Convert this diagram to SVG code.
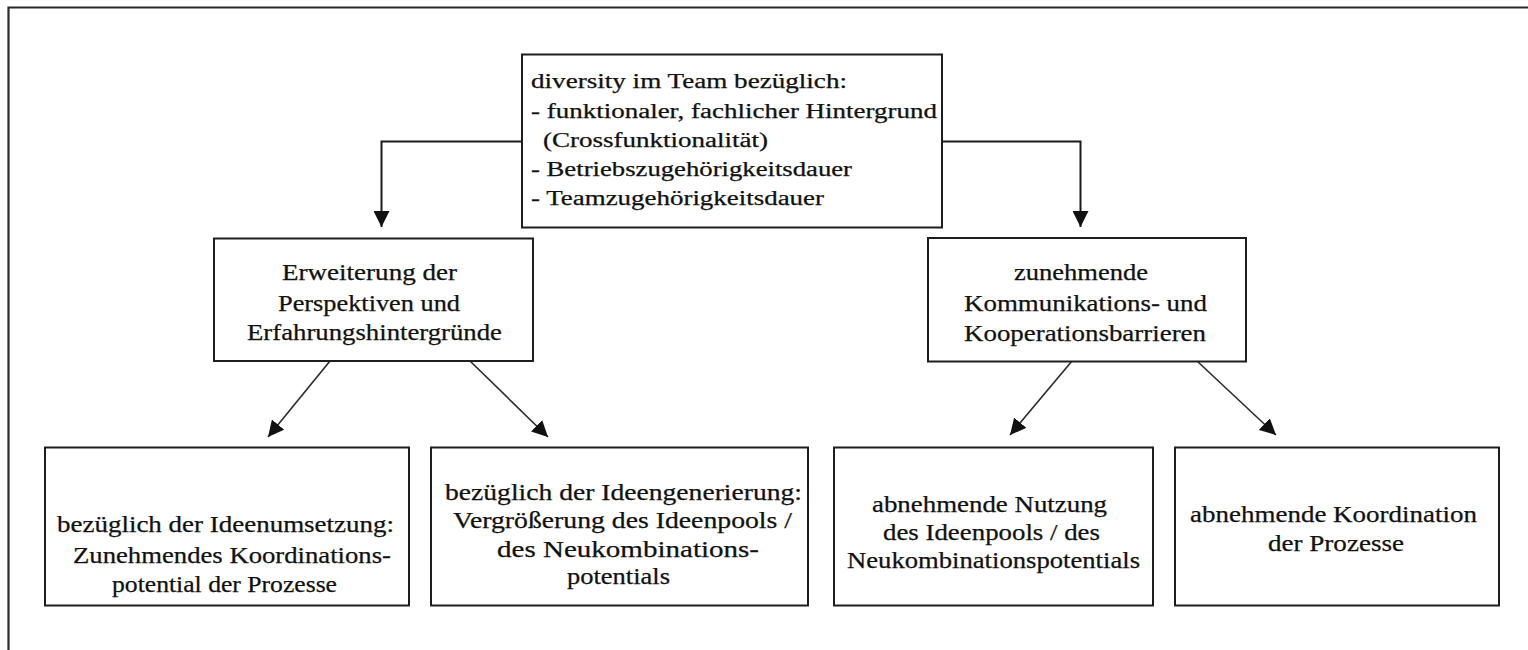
<svg xmlns="http://www.w3.org/2000/svg" width="1528" height="650" viewBox="0 0 1528 650">
  <style>
    .frame { fill: none; stroke: #2b2b2b; stroke-width: 2.2; }
    .box { fill: #ffffff; stroke: #1e1e1e; stroke-width: 2; }
    .t { font-family: "Liberation Serif", "Times New Roman", serif; fill: #111111; stroke: #111111; stroke-width: 0.25; }
    .t18 { font-size: 20px; }
    .t21 { font-size: 23px; }
    .elbow { fill: none; stroke: #1a1a1a; stroke-width: 2; }
    .diag { fill: none; stroke: #2a2a2a; stroke-width: 1.6; }
  </style>
  <defs>
    <marker id="arrow" viewBox="0 0 16 16" refX="16" refY="8" markerWidth="16" markerHeight="16" markerUnits="userSpaceOnUse" orient="auto">
      <path d="M0,0 L16,8 L0,16 z" fill="#111111"/>
    </marker>
  </defs>

  <rect width="1528" height="650" fill="#ffffff"/>
  <!-- outer frame (runs off the right and bottom edges) -->
  <path class="frame" d="M8.5,650 V7.5 H1528"/>

  <g id="connectors">
    <path class="elbow" d="M522,141.5 H381.5 V227" marker-end="url(#arrow)"/>
    <path class="elbow" d="M942,141.5 H1080.5 V227" marker-end="url(#arrow)"/>
    <line class="diag" x1="330" y1="361" x2="268" y2="437" marker-end="url(#arrow)"/>
    <line class="diag" x1="470" y1="361" x2="548" y2="437" marker-end="url(#arrow)"/>
    <line class="diag" x1="1072" y1="361" x2="1010" y2="435" marker-end="url(#arrow)"/>
    <line class="diag" x1="1197" y1="361" x2="1276" y2="435" marker-end="url(#arrow)"/>
  </g>

  <g id="n-diversity">
    <rect class="box" x="522" y="54.5" width="420" height="173"/>
    <text class="t t18" x="531" y="88" textLength="316" lengthAdjust="spacingAndGlyphs">diversity im Team bezüglich:</text>
    <text class="t t18" x="531" y="118" textLength="406" lengthAdjust="spacingAndGlyphs">- funktionaler, fachlicher Hintergrund</text>
    <text class="t t18" x="543" y="147" textLength="225" lengthAdjust="spacingAndGlyphs">(Crossfunktionalität)</text>
    <text class="t t18" x="531" y="176" textLength="321" lengthAdjust="spacingAndGlyphs">- Betriebszugehörigkeitsdauer</text>
    <text class="t t18" x="531" y="204.5" textLength="293" lengthAdjust="spacingAndGlyphs">- Teamzugehörigkeitsdauer</text>
  </g>

  <g id="n-erweiterung">
    <rect class="box" x="214" y="238.5" width="319" height="122.5"/>
    <text class="t t21" x="282" y="280" textLength="175" lengthAdjust="spacingAndGlyphs">Erweiterung der</text>
    <text class="t t21" x="278" y="311" textLength="182" lengthAdjust="spacingAndGlyphs">Perspektiven und</text>
    <text class="t t21" x="247" y="340" textLength="255" lengthAdjust="spacingAndGlyphs">Erfahrungshintergründe</text>
  </g>

  <g id="n-barrieren">
    <rect class="box" x="928" y="238" width="318" height="123.5"/>
    <text class="t t21" x="1014" y="280" textLength="134" lengthAdjust="spacingAndGlyphs">zunehmende</text>
    <text class="t t21" x="964" y="311" textLength="243" lengthAdjust="spacingAndGlyphs">Kommunikations- und</text>
    <text class="t t21" x="964" y="341" textLength="242" lengthAdjust="spacingAndGlyphs">Kooperationsbarrieren</text>
  </g>

  <g id="n-umsetzung">
    <rect class="box" x="45" y="447.5" width="364" height="158"/>
    <text class="t t21" x="57" y="532" textLength="337" lengthAdjust="spacingAndGlyphs">bezüglich der Ideenumsetzung:</text>
    <text class="t t21" x="73" y="563" textLength="318" lengthAdjust="spacingAndGlyphs">Zunehmendes Koordinations-</text>
    <text class="t t21" x="112" y="592" textLength="225" lengthAdjust="spacingAndGlyphs">potential der Prozesse</text>
  </g>

  <g id="n-generierung">
    <rect class="box" x="431" y="447.5" width="377" height="158"/>
    <text class="t t21" x="445" y="500" textLength="357" lengthAdjust="spacingAndGlyphs">bezüglich der Ideengenerierung:</text>
    <text class="t t21" x="453" y="528" textLength="339" lengthAdjust="spacingAndGlyphs">Vergrößerung des Ideenpools /</text>
    <text class="t t21" x="497" y="557" textLength="262" lengthAdjust="spacingAndGlyphs">des Neukombinations-</text>
    <text class="t t21" x="567" y="584" textLength="103" lengthAdjust="spacingAndGlyphs">potentials</text>
  </g>

  <g id="n-nutzung">
    <rect class="box" x="834" y="447.5" width="319" height="158"/>
    <text class="t t21" x="872" y="512" textLength="235" lengthAdjust="spacingAndGlyphs">abnehmende Nutzung</text>
    <text class="t t21" x="883" y="540" textLength="217" lengthAdjust="spacingAndGlyphs">des Ideenpools / des</text>
    <text class="t t21" x="847" y="568" textLength="293" lengthAdjust="spacingAndGlyphs">Neukombinationspotentials</text>
  </g>

  <g id="n-koordination">
    <rect class="box" x="1175" y="447.5" width="324" height="158"/>
    <text class="t t21" x="1190" y="522" textLength="287" lengthAdjust="spacingAndGlyphs">abnehmende Koordination</text>
    <text class="t t21" x="1268" y="551" textLength="136" lengthAdjust="spacingAndGlyphs">der Prozesse</text>
  </g>
</svg>
